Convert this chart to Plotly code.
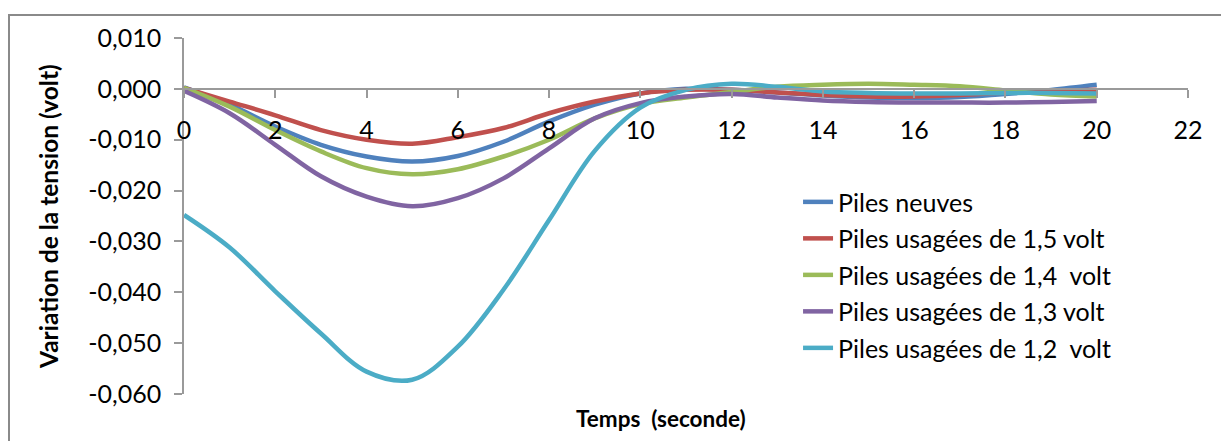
import plotly.graph_objects as go

# Time axis (seconds)
temps = list(range(0, 21))

# Voltage variation (volt) for each battery set
piles_neuves = [0.0003, -0.0031, -0.0074, -0.0110, -0.0133, -0.0143, -0.0132, -0.0104, -0.0064, -0.0031,
                -0.0009, 0.0000, -0.0002, -0.0007, -0.0013, -0.0017, -0.0018, -0.0016, -0.0010, -0.0002, 0.0008]
piles_1_5 = [0.0002, -0.0025, -0.0052, -0.0081, -0.0100, -0.0108, -0.0095, -0.0077, -0.0048, -0.0025,
             -0.0009, -0.0002, -0.0002, -0.0007, -0.0012, -0.0015, -0.0015, -0.0012, -0.0007, -0.0004, -0.0002]
piles_1_4 = [0.0002, -0.0035, -0.0081, -0.0123, -0.0156, -0.0168, -0.0158, -0.0133, -0.0100, -0.0058,
             -0.0030, -0.0017, -0.0006, 0.0004, 0.0008, 0.0010, 0.0008, 0.0005, -0.0003, -0.0011, -0.0015]
piles_1_3 = [-0.0004, -0.0048, -0.0110, -0.0172, -0.0212, -0.0231, -0.0215, -0.0176, -0.0117, -0.0058,
             -0.0028, -0.0015, -0.0010, -0.0017, -0.0023, -0.0026, -0.0027, -0.0027, -0.0027, -0.0026, -0.0024]
piles_1_2 = [-0.0248, -0.0312, -0.0398, -0.0481, -0.0556, -0.0572, -0.0507, -0.0395, -0.0258, -0.0122,
             -0.0037, -0.0002, 0.0010, 0.0004, -0.0005, -0.0008, -0.0009, -0.0009, -0.0008, -0.0008, -0.0009]

noms = ["Piles neuves", "Piles usagées de 1,5 volt", "Piles usagées de 1,4\u00a0 volt",
        "Piles usagées de 1,3 volt", "Piles usagées de 1,2\u00a0 volt"]
couleurs = ["#4F81BD", "#C0504D", "#9BBB59", "#8064A2", "#4BACC6"]
series = [piles_neuves, piles_1_5, piles_1_4, piles_1_3, piles_1_2]

y_ticks = [0.010, 0.0, -0.010, -0.020, -0.030, -0.040, -0.050, -0.060]
y_labels = ["0,010", "0,000", "-0,010", "-0,020", "-0,030", "-0,040", "-0,050", "-0,060"]
x_ticks = list(range(0, 23, 2))

FONT = "Lato"
GRIS = "#9a9a9a"

fig = go.Figure()
for nom, couleur, valeurs in zip(noms, couleurs, series):
    fig.add_trace(go.Scatter(
        x=temps, y=valeurs, name=nom, mode="lines", legendgroup=nom,
        line=dict(color=couleur, width=4.5, shape="spline", smoothing=1.0),
    ))

Y_MIN, Y_MAX = -0.060, 0.010

fig.update_layout(
    width=1221, height=441,
    margin=dict(l=184, r=33, t=38, b=47),
    paper_bgcolor="white", plot_bgcolor="white",
    font=dict(family=FONT, size=25, color="#000000"),
    showlegend=True,
    legend=dict(
        x=0.6116, y=0.6036, xanchor="left", yanchor="top",
        bgcolor="rgba(0,0,0,0)", font=dict(family=FONT, size=25, color="#000000"),
        tracegroupgap=1, itemwidth=30,
    ),
    xaxis=dict(
        range=[0, 22], tickvals=x_ticks, ticktext=[str(v) for v in x_ticks],
        showgrid=False, zeroline=False, showline=True, linecolor=GRIS, linewidth=1.5,
        ticks="outside", ticklen=8, tickcolor=GRIS, tickwidth=1.5,
        anchor="free", position=(0 - Y_MIN) / (Y_MAX - Y_MIN),
        ticklabelstandoff=11, tickfont=dict(size=25),
    ),
    yaxis=dict(
        range=[Y_MIN, Y_MAX], tickvals=y_ticks, ticktext=y_labels,
        showgrid=False, zeroline=False, showline=True, linecolor=GRIS, linewidth=1.5,
        ticks="outside", ticklen=8, tickcolor=GRIS, tickwidth=1.5,
        ticklabelstandoff=8, tickfont=dict(size=25),
    ),
    shapes=[
        # chart frame (top and left edges visible)
        dict(type="rect", xref="paper", yref="paper",
             x0=-0.1743, x1=1.2, y0=-0.3, y1=1.0646,
             line=dict(color="#8a8a8a", width=2), layer="below"),
    ],
    annotations=[
        dict(text="<b>Variation de la tension (volt)</b>", xref="paper", yref="paper",
             x=(48 - 184) / 1004, y=(394 - 217) / 356, xanchor="center", yanchor="middle",
             textangle=-90, showarrow=False, font=dict(family=FONT, size=24.5, color="#000000")),
        dict(text="<b>Temps\u00a0 (seconde)</b>", xref="paper", yref="paper",
             x=(661 - 184) / 1004, y=(394 - 418) / 356, xanchor="center", yanchor="middle",
             showarrow=False, font=dict(family=FONT, size=22.5, color="#000000")),
    ],
)

fig.write_html("out.html")
